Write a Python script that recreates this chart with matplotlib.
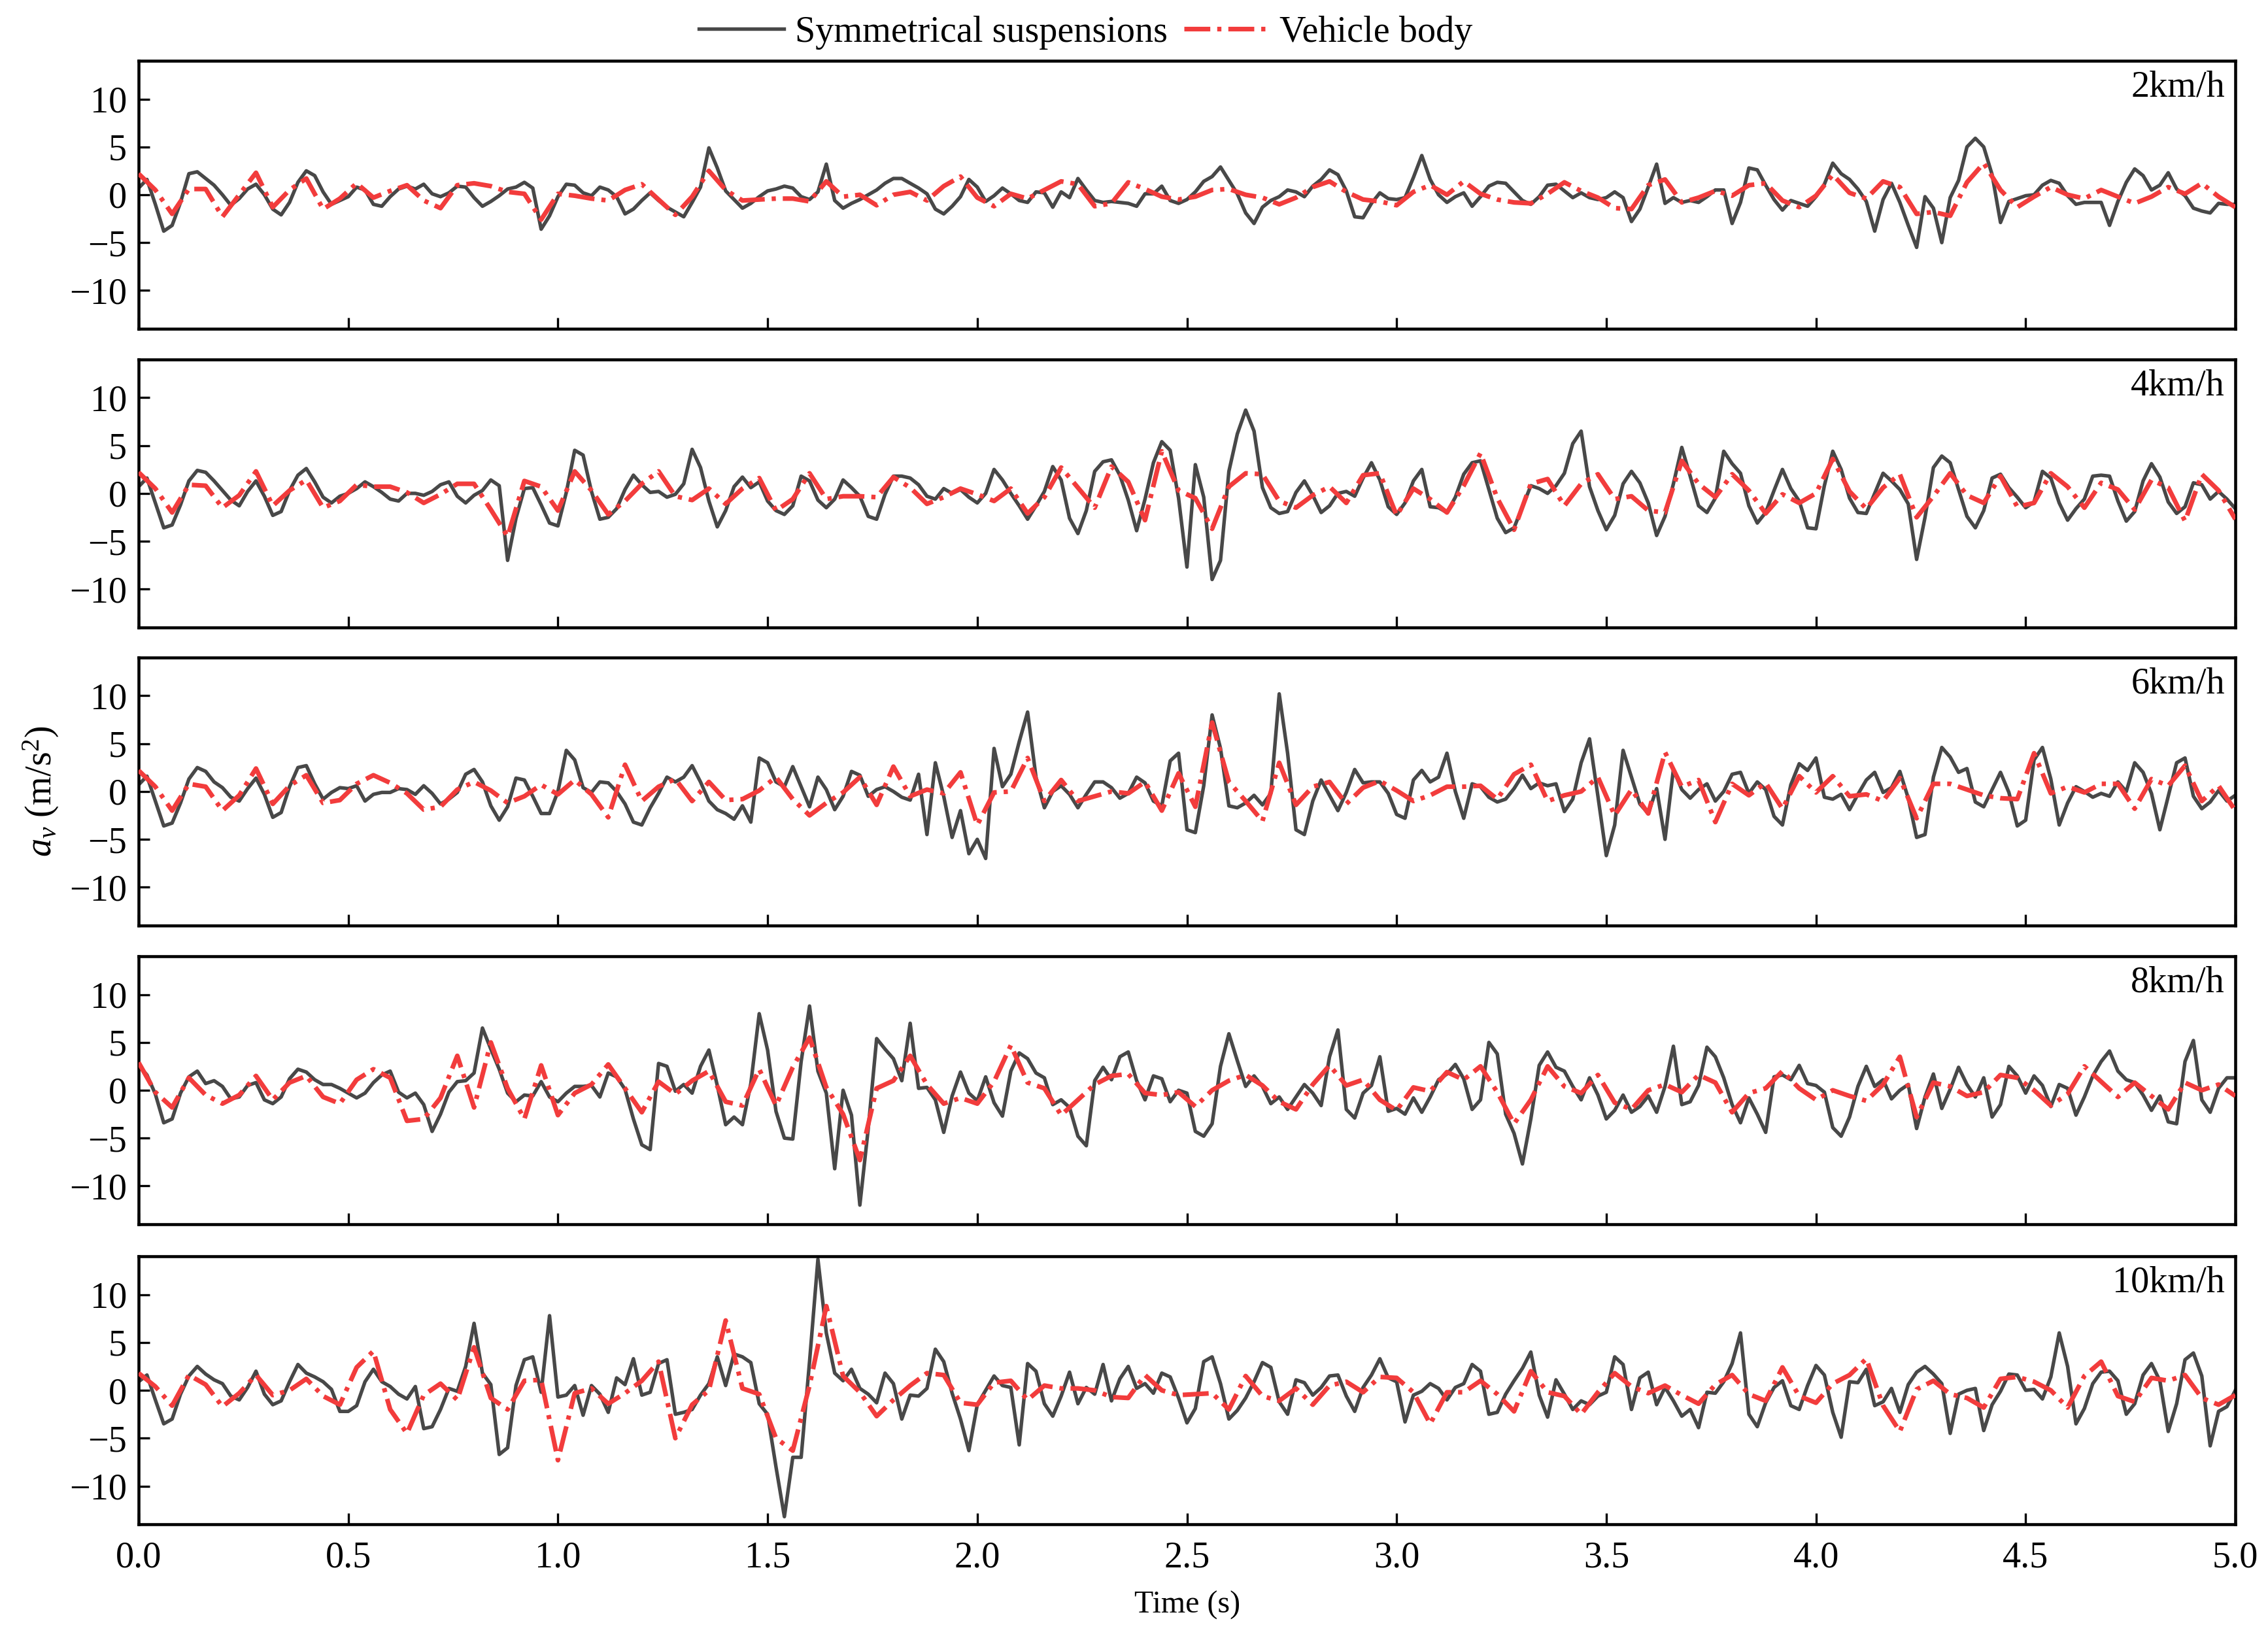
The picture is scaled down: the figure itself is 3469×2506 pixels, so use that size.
import numpy as np
import matplotlib
matplotlib.use('Agg')
import matplotlib.pyplot as plt
from matplotlib.ticker import FormatStrFormatter

# fonts (Times-like)
plt.rcParams['font.family'] = ['Liberation Serif', 'DejaVu Serif']
plt.rcParams['mathtext.fontset'] = 'custom'
plt.rcParams['mathtext.rm'] = 'Liberation Serif'
plt.rcParams['mathtext.it'] = 'Liberation Serif:italic'

# data
speeds = ['2km/h', '4km/h', '6km/h', '8km/h', '10km/h']
dt_susp = 0.02   # s, symmetrical suspensions
dt_body = 0.04   # s, vehicle body

susp_2 = [0.7, 1.6, -1.0, -3.8, -3.2, -0.8, 2.2, 2.4, 1.7, 1.0,
          0.0, -1.1, -0.4, 0.6, 1.1, 0.0, -1.5, -2.1, -0.8, 1.3,
          2.5, 2.0, 0.3, -1.0, -0.6, -0.2, 0.8, 0.5, -1.0, -1.2,
          -0.2, 0.6, 0.9, 0.6, 1.1, 0.1, -0.2, 0.2, 0.9, 0.8,
          -0.3, -1.2, -0.7, -0.1, 0.6, 0.8, 1.3, 0.7, -3.6, -2.2,
          -0.2, 1.1, 1.0, 0.2, -0.1, 0.8, 0.5, -0.2, -2.0, -1.5,
          -0.6, 0.2, -0.6, -1.3, -1.8, -2.3, -0.8, 0.8, 4.9, 2.8,
          0.4, -0.5, -1.4, -0.9, -0.2, 0.4, 0.6, 0.9, 0.7, -0.2,
          -0.5, 0.3, 3.2, -0.6, -1.4, -0.9, -0.5, 0.0, 0.5, 1.2,
          1.7, 1.7, 1.2, 0.7, 0.1, -1.5, -2.0, -1.2, -0.2, 1.6,
          0.8, -0.7, -0.1, 0.7, 0.1, -0.6, -0.8, 0.3, 0.2, -1.3,
          0.3, -0.3, 1.7, 0.5, -0.6, -0.8, -0.7, -0.8, -0.9, -1.2,
          0.1, 0.1, 0.9, -0.6, -0.9,
          -0.5, 0.3, 1.4, 1.9, 2.9, 1.5, 0.1, -1.9, -3.0, -1.3,
          -0.6, -0.2, 0.5, 0.3, -0.2, 0.9, 1.6, 2.6, 2.1, 0.4,
          -2.3, -2.4, -0.9, 0.2, -0.4, -0.5, -0.3, 1.8, 4.1, 1.6,
          0.0, -0.8, -0.2, 0.2, -1.2, -0.2, 0.9, 1.3, 1.2, 0.3,
          -0.6, -1.0, -0.2, 1.0, 1.1, 0.4, -0.3, 0.2, -0.3, -0.5,
          -0.3, 0.3, -0.3, -2.8, -1.5, 0.8, 3.2, -0.9, -0.3, -0.8,
          -0.6, -0.8, -0.2, 0.5, 0.5, -3.0, -0.8, 2.8, 2.6, 1.0,
          -0.5, -1.6, -0.6, -0.9, -1.2, -0.2, 1.1, 3.3, 2.2, 1.6,
          0.6, -0.7, -3.8, -0.5, 1.2, -0.8, -3.2, -5.5, -0.2, -1.4,
          -5.0, -0.3, 1.5, 5.0, 5.9, 5.0, 2.1, -2.9, -0.7, -0.4,
          -0.1, 0.0, 1.0, 1.5, 1.2, -0.1, -1.0, -0.8, -0.8, -0.8,
          -3.2, -0.7, 1.3, 2.7, 2.0, 0.5, 1.0, 2.3, 0.6, -0.1,
          -1.4, -1.7, -1.9, -0.9, -1.0, -1.0]
body_2 = [2.2, 0.5, -2.0, 0.6, 0.6, -2.3, 0.0, 2.3, -1.3, 0.5,
          1.7, -1.5, -0.4, 1.2, -0.3, 0.4, 1.0, -0.6, -1.4, 1.0,
          1.2, 0.9, 0.3, 0.1, -2.6, 0.1, -0.1, -0.4, -0.6, 0.5,
          1.1, -0.5, -2.1, -0.2, 2.5, 0.5, -0.6, -0.5, -0.4, -0.4,
          -0.7, 1.4, -0.2, 0.0, -1.1, 0.0, 0.3, -0.6, 0.9, 1.9,
          -0.3, -1.2, 0.1, -0.4, 0.5, 1.4, 1.1, -1.2, -0.9, 1.3,
          0.6, -0.2, -0.5,
          -0.2, 0.5, 0.6, 0.0, -0.3, -1.0, -0.3, 0.8, 1.4, 0.3,
          -0.5, -0.7, -1.1, 0.3, 1.0, 0.0, 1.4, 0.1, -0.5, -0.8,
          -0.9, 0.1, 1.3, 0.4, -0.3, -1.4, -1.5, 1.0, 1.6, -0.8,
          -0.3, 0.4, -0.1, 1.0, 1.2, -0.6, -1.3, -0.1, 2.1, 0.2,
          -0.4, 1.4, 0.8, -2.0, -1.8, -2.2, 1.3, 3.3, 0.5, -1.3,
          -0.2, 0.8, 0.0, -0.4, 0.5, -0.2, -0.9, -0.2, 0.8, 0.1,
          1.2, -0.2, -1.3]

susp_4 = [0.7, 1.6, -1.0, -3.6, -3.3, -1.2, 1.3, 2.4, 2.2, 1.3,
          0.3, -0.7, -1.3, 0.2, 1.3, -0.3, -2.3, -1.9, 0.3, 1.9,
          2.6, 1.2, -0.4, -1.0, -0.3, 0.0, 0.5, 1.2, 0.7, 0.1,
          -0.6, -0.8, 0.0, 0.0, -0.2, 0.2, 0.9, 1.2, -0.3, -1.0,
          -0.2, 0.3, 1.4, 0.8, -7.0, -2.6, 0.5, 0.6, -1.2, -3.1,
          -3.4, 0.1, 4.5, 4.0, 0.2, -2.7, -2.5, -1.6, 0.4, 1.9,
          0.9, 0.1, 0.2, -0.4, -0.1, 1.0, 4.6, 2.7, -0.8, -3.5,
          -1.8, 0.7, 1.7, 0.6, 1.2, -0.8, -1.8, -2.2, -1.3, 1.8,
          1.3, -0.7, -1.5, -0.6, 1.4, 0.6, -0.3, -2.4, -2.7, -0.1,
          1.8, 1.8, 1.6, 0.9, -0.3, -0.6, 0.5, 0.0, 0.4, -0.4,
          -1.0, 0.0, 2.5, 1.4, 0.0, -1.3, -2.7, -1.3, 0.2, 2.8,
          1.4, -2.6, -4.2, -1.8, 2.3, 3.3, 3.5, 1.9, -0.7, -3.9,
          -0.6, 3.2, 5.4, 4.5, -0.5,
          -7.7, 3.0, -0.4, -9.0, -7.0, 2.3, 6.2, 8.7, 6.5, 0.6,
          -1.5, -2.1, -1.9, 0.1, 1.3, -0.2, -2.0, -1.3, 0.0, 0.2,
          -0.3, 1.6, 3.2, 1.4, -1.4, -2.2, -1.0, 1.3, 2.5, -1.4,
          -1.5, -2.0, -0.4, 2.0, 3.2, 3.4, 0.4, -2.6, -4.1, -3.6,
          -1.4, 0.8, 0.5, 0.0, 0.8, 2.1, 5.2, 6.5, 0.7, -1.8,
          -3.8, -2.3, 1.0, 2.3, 1.1, -1.0, -4.4, -2.4, 1.0, 4.8,
          1.8, -1.3, -2.0, -0.5, 4.4, 3.1, 2.1, -1.3, -3.1, -2.0,
          0.3, 2.5, 0.5, -0.8, -3.6, -3.7, 0.8, 4.4, 2.5, -0.5,
          -2.0, -2.1, 0.0, 2.1, 1.3, 0.4, -1.1, -6.9, -2.5, 2.7,
          3.9, 3.2, 0.4, -2.4, -3.6, -1.8, 1.6, 2.0, 0.6, -0.4,
          -1.5, -0.9, 2.3, 1.6, -1.0, -2.8, -1.6, -0.6, 1.8, 1.9,
          1.8, -0.8, -2.9, -1.9, 1.3, 3.1, 1.7, -0.9, -2.1, -1.4,
          1.1, 0.9, -0.6, 0.2, -0.6, -1.6]
body_4 = [2.2, 0.5, -2.0, 0.9, 0.8, -1.5, -0.2, 2.3, -1.3, 0.3,
          1.4, -1.5, -0.8, 0.9, 0.7, 0.7, 0.1, -1.0, -0.1, 1.0,
          1.0, -1.7, -4.5, 1.3, 0.7, -1.8, 2.3, 0.3, -2.2, -0.8,
          1.0, 2.3, -0.3, -0.7, 0.5, -1.1, 0.5, 1.6, -1.8, -0.6,
          2.1, -0.6, -0.3, -0.3, -0.4, 1.7, 0.6, -1.1, -0.4, 0.5,
          -0.1, -0.8, 0.5, -2.1, -0.4, 2.7, 0.6, -1.5, 2.8, 1.2,
          -2.8, 4.4, 0.3,
          -0.5, -3.7, 0.7, 2.1, 2.0, -0.8, -1.5, -0.2, 0.7, -1.0,
          1.9, 2.1, -2.3, 0.5, -0.6, -2.0, 0.8, 4.2, -0.5, -3.8,
          1.0, 1.5, -1.3, 1.0, 2.0, -0.6, -0.3, -1.8, -2.0, 3.4,
          1.0, -0.4, 2.0, 0.3, -2.1, -0.1, -1.0, 0.0, 3.6, 0.2,
          -1.6, 0.6, 2.0, -2.5, -0.3, 2.1, -0.2, -1.0, 1.8, -1.4,
          -1.0, 2.1, 0.7, -1.5, 1.1, 0.4, -1.7, 1.4, 0.6, -2.9,
          2.0, 0.3, -2.7]

susp_6 = [0.7, 1.6, -1.0, -3.6, -3.3, -1.2, 1.3, 2.5, 2.1, 1.0,
          0.4, -0.6, -1.0, 0.3, 1.4, -0.3, -2.7, -2.2, 0.5, 2.5,
          2.7, 0.8, -0.8, -0.1, 0.4, 0.3, 0.6, -1.0, -0.3, -0.1,
          -0.1, 0.3, 0.2, -0.3, 0.6, -0.2, -1.3, -0.8, -0.1, 1.8,
          2.3, 1.0, -1.5, -3.0, -1.6, 1.4, 1.2, -0.5, -2.3, -2.3,
          0.0, 4.3, 3.3, 0.4, -0.1, 1.0, 0.9, 0.0, -1.3, -3.2,
          -3.5, -1.7, -0.2, 1.5, 1.0, 1.5, 2.7, 1.0, -1.0, -1.9,
          -2.3, -2.9, -1.5, -3.2, 3.5, 3.0, 1.0, 0.5, 2.6, 0.5,
          -1.6, 1.5, 0.2, -1.9, -0.5, 2.1, 1.7, -0.5, 0.2, 0.5,
          0.0, -0.6, -0.9, 1.8, -4.5, 3.0, -0.5, -4.8, -2.0, -6.5,
          -5.0, -7.0, 4.5, 0.5, 1.8, 5.2, 8.3, 1.5, -1.7, 0.0,
          0.6, -0.3, -1.7, -0.3, 1.0, 1.0, 0.4, -0.7, -0.2, 1.5,
          0.9, -1.0, -1.5, 3.2, 4.0,
          -4.0, -4.3, 0.6, 8.0, 4.5, -1.5, -1.7, -1.2, -0.4, -1.4,
          -0.2, 10.2, 4.0, -4.0, -4.5, -1.0, 1.2, -0.4, -2.0, -0.1,
          2.3, 0.9, 1.0, 1.0, -0.2, -2.4, -2.8, 1.2, 2.2, 1.0,
          1.5, 4.0, 0.0, -2.8, 0.8, 0.5, -0.6, -1.1, -0.8, 0.3,
          1.7, 0.3, 0.9, 0.6, 0.8, -2.1, -0.8, 3.0, 5.5, -0.5,
          -6.7, -3.5, 4.3, 1.5, -1.3, -2.3, 0.3, -5.0, 2.3, 0.2,
          -0.7, 0.2, 0.8, -1.0, 0.0, 1.8, 2.0, -0.2, 1.0, 0.2,
          -2.6, -3.5, 0.7, 2.9, 2.2, 3.5, -0.6, -0.8, -0.3, -1.9,
          -0.3, 1.2, 2.0, -0.1, 0.4, 2.1, -0.7, -4.8, -4.5, 1.5,
          4.6, 3.6, 2.0, 2.4, -1.1, -1.6, 0.2, 2.0, -0.1, -3.6,
          -3.0, 3.3, 4.6, 1.3, -3.5, -1.2, 0.5, 0.0, -0.6, -0.2,
          -0.5, 1.0, 0.0, 3.0, 2.0, -0.2, -4.0, -0.5, 3.0, 3.5,
          -0.5, -1.8, -1.1, 0.1, -1.0, -0.4]
body_6 = [2.2, 0.5, -2.0, 0.8, 0.5, -2.0, -0.4, 2.4, -1.3, 0.6,
          1.7, -1.2, -0.9, 0.8, 1.7, 0.9, -0.2, -1.9, -1.6, 0.2,
          1.0, 0.1, -1.2, -0.5, 0.7, -0.3, 1.2, -0.3, -2.7, 2.8,
          -1.0, 0.5, 1.3, -1.0, 1.0, -0.9, -0.8, 0.1, 1.5, -0.8,
          -2.5, -1.2, -0.1, 1.5, -1.4, 2.6, -0.5, 0.2, -0.2, 2.0,
          -3.5, -0.1, 0.0, 3.5, -1.0, 1.2, -1.0, -0.5, 0.0, -0.2,
          1.0, -2.0, 1.9,
          -1.6, 7.2, 1.0, -1.0, -3.1, 3.0, -1.4, 0.5, 1.0, -1.3,
          0.4, 1.1, 0.1, -1.0, -0.4, 0.5, 0.5, 0.6, -0.8, 1.8,
          2.8, -1.0, -0.4, 0.0, 1.5, -2.5, 0.2, -2.3, 4.1, 0.5,
          1.2, -3.2, 0.8, -0.4, 0.9, -1.8, 1.6, -0.1, 1.6, -0.5,
          -0.3, -1.0, 1.4, -2.8, 0.8, 0.8, 0.2, -0.4, -0.7, -0.8,
          4.0, -0.2, 0.5, -0.1, 0.8, 0.8, -1.8, 1.3, 0.6, 2.7,
          -1.0, 0.6, -2.0]

susp_8 = [2.6, 1.6, -0.4, -3.4, -3.0, -0.3, 1.4, 2.0, 0.7, 1.0,
          0.4, -0.9, -0.7, 0.5, 0.8, -1.0, -1.4, -0.7, 1.2, 2.2,
          1.9, 1.1, 0.6, 0.6, 0.2, -0.3, -0.8, -0.3, 0.8, 1.6,
          2.0, -0.2, -0.8, -0.3, -1.5, -4.3, -2.5, -0.2, 0.9, 1.0,
          1.8, 6.5, 4.3, 2.2, -0.3, -1.2, -0.5, -0.6, 0.9, -0.7,
          -1.2, -0.3, 0.4, 0.4, 0.5, -0.7, 1.8, 1.4, 0.1, -3.0,
          -5.7, -6.2, 2.8, 2.5, -0.1, 0.6, -0.3, 2.5, 4.2, 0.5,
          -3.6, -2.8, -3.6, 0.7, 8.0, 4.2, -2.2, -5.0, -5.1, 3.0,
          8.8, 2.0, -0.3, -8.2, 0.0, -2.6, -12.0, -4.0, 5.4, 4.3,
          3.3, 1.0, 7.0, 0.2, 0.3, -1.0, -4.4, -0.6, 1.9, -0.3,
          -1.1, 1.4, -1.3, -2.7, 2.0, 3.9, 3.3, 1.8, 1.3, -1.5,
          -1.0, -1.8, -4.8, -5.8, 1.0, 2.4, 1.1, 3.5, 4.0, 1.0,
          -1.0, 1.5, 1.2, -1.2, 0.0,
          -0.3, -4.3, -4.8, -3.5, 2.5, 5.9, 3.1, 0.4, 1.5, 0.4,
          -1.4, -0.7, -2.0, -0.7, 0.6, -0.3, -1.6, 3.5, 6.3, -2.0,
          -2.9, -0.3, 0.5, 3.5, -2.2, -1.9, -2.5, -0.8, -2.3, -0.7,
          1.1, 1.7, 2.7, 1.2, -2.0, -1.0, 5.0, 3.8, -2.5, -4.5,
          -7.7, -3.0, 2.6, 4.0, 2.4, 2.0, 0.4, -1.0, 1.3, -0.5,
          -3.0, -2.1, -0.5, -2.3, -1.7, -0.6, -2.3, 0.4, 4.6, -1.5,
          -1.2, 0.5, 4.5, 3.5, 1.3, -1.5, -3.4, -0.8, -2.5, -4.4,
          1.4, 1.6, 1.1, 2.6, 0.7, 0.5, -0.2, -3.9, -4.8, -2.8,
          0.4, 2.5, 0.4, 1.1, -0.9, 0.0, 0.6, -4.0, -0.7, 1.7,
          -1.9, 0.1, 2.4, 0.6, -0.7, 1.3, -2.8, -1.5, 2.5, 1.5,
          -0.3, 1.5, 0.5, -1.7, 0.6, 0.2, -2.6, -0.7, 1.5, 3.0,
          4.1, 2.0, 1.1, 0.8, -0.5, -2.1, -0.6, -3.3, -3.5, 3.0,
          5.2, -1.0, -2.3, 0.2, 1.3, 1.3]
body_8 = [2.9, -0.2, -1.8, 1.3, -0.5, -1.4, -0.5, 1.5, -1.0, 0.8,
          1.5, -0.7, -1.4, 1.1, 2.2, 1.3, -3.2, -3.0, -0.8, 3.6,
          -1.8, 5.0, 0.2, -3.0, 2.6, -2.6, -0.3, 0.6, 2.7, 0.2,
          -2.3, 0.9, -0.4, 1.0, 2.0, -1.2, -1.6, 2.2, -1.6, 2.4,
          5.5, 0.3, -2.5, -7.3, 0.2, 1.0, 3.6, 0.6, -1.4, -0.8,
          -1.4, 0.9, 4.7, 0.8, 0.2, -2.6, -1.0, 0.6, 1.5, 1.7,
          -0.3, -0.5, -0.2,
          -1.7, 0.0, 1.0, 1.6, 0.5, -1.2, -2.0, 0.6, 2.6, 0.5,
          1.1, -1.0, -2.1, 0.3, -0.1, 1.9, 1.1, 2.5, -0.2, -3.5,
          -1.0, 2.5, 0.4, -0.3, 1.6, -1.3, -2.0, 0.0, 0.6, -0.2,
          1.6, 0.8, -2.3, -0.3, 0.2, 2.0, 0.2, -1.0, 0.0, -0.6,
          -1.1, 0.6, 3.5, -2.8, 0.8, 0.4, -0.6, -0.2, 1.6, 1.3,
          0.0, -1.6, -0.4, 2.5, 0.9, -0.7, 0.8, -0.6, -2.0, 0.8,
          0.0, 0.6, -0.6]

susp_10 = [0.9, 1.6, -1.0, -3.5, -3.0, -0.4, 1.5, 2.5, 1.7, 1.1,
           0.7, -0.6, -1.0, 0.3, 2.0, -0.4, -1.5, -1.1, 0.9, 2.7,
           1.8, 1.4, 0.9, 0.1, -2.2, -2.2, -1.6, 0.9, 2.2, 0.9,
           0.4, -0.4, -0.9, 0.4, -4.0, -3.8, -2.0, 0.2, -0.1, 2.5,
           7.0, 1.8, 0.6, -6.7, -6.0, 0.5, 3.2, 3.5, -0.2, 7.8,
           -0.7, -0.5, 0.5, -2.6, 0.5, -0.4, -2.3, 1.3, 0.6, 3.3,
           -0.5, -0.2, 2.8, 3.2, -2.5, -2.3, -2.0, -0.5, 0.7, 3.5,
           0.5, 3.8, 3.5, 2.9, -1.4, -2.5, -8.0, -13.2, -7.0, -7.0,
           3.0, 13.7, 6.0, 1.8, 1.0, 2.2, 0.2, -0.4, -1.3, 1.8,
           0.7, -3.0, -0.5, -0.6, 0.2, 4.3, 3.0, -0.3, -3.0, -6.3,
           -1.5, 0.0, 1.5, 0.5, 0.3, -5.7, 2.8, 2.0, -1.4, -2.7,
           -0.6, 1.9, -1.4, 0.3, -0.4, 2.7, -1.1, 1.2, 2.5, 0.2,
           0.7, -0.3, 1.8, 1.4, -0.8,
           -3.4, -1.9, 3.0, 3.5, 0.7, -3.0, -2.1, -0.8, 0.9, 2.9,
           2.4, -1.2, -2.5, 1.1, 0.8, -0.5, 0.3, 1.5, 1.6, -0.6,
           -2.2, 0.3, 1.6, 3.3, 1.3, 0.9, -3.3, -0.5, -0.1, 0.7,
           0.2, -1.0, 0.3, 0.7, 2.7, 2.0, -2.5, -2.3, -0.4, 1.0,
           2.3, 4.0, -0.5, -2.8, 1.1, -0.4, -2.0, -1.1, -1.5, -0.6,
           -0.2, 3.5, 2.7, -2.0, 1.3, 1.9, -1.5, 0.3, -1.1, -2.7,
           -2.0, -3.9, -0.2, -0.3, 0.9, 2.8, 6.0, -2.5, -3.8, -1.3,
           0.3, 1.0, -1.6, -2.0, 0.5, 2.6, 1.6, -2.3, -4.9, 0.9,
           0.8, 2.2, -1.6, -1.2, 0.2, -2.3, 0.6, 1.9, 2.5, 1.7,
           0.7, -4.5, -0.4, 0.0, 0.2, -4.2, -1.5, -0.1, 1.7, 1.6,
           0.0, 0.1, -0.9, 1.4, 6.0, 2.5, -3.5, -1.9, 0.7, 1.9,
           2.0, 1.0, -2.5, -1.4, 1.6, 2.8, 1.0, -4.3, -1.4, 3.2,
           3.9, 1.5, -5.8, -2.2, -1.7, 0.0]
body_10 = [1.8, 0.4, -1.6, 1.6, 0.6, -1.7, -0.3, 1.6, -0.5, 0.0,
           1.2, -0.6, -1.5, 2.4, 4.1, -2.0, -4.5, -0.5, 0.7, -1.0,
           4.5, -0.8, -2.0, 1.0, 1.1, -7.3, -0.3, 0.2, -1.4, -0.3,
           1.0, 3.0, -5.0, -1.5, 0.0, 7.3, 0.2, -0.4, -5.0, -6.3,
           0.5, 8.8, 1.5, -0.2, -2.7, -1.0, 0.5, 1.8, 1.6, -1.3,
           -1.5, 0.8, 1.0, -1.0, 0.5, 0.2, 0.2, 0.0, -0.7, -0.8,
           1.6, 0.0, -0.5,
           -0.4, -0.3, -2.0, 1.5, -0.6, -1.1, 0.2, -1.5, 0.5, 0.9,
           -0.2, 1.4, 1.3, -0.2, -3.5, -0.2, -0.2, 1.0, -0.4, -2.2,
           2.0, -0.2, -0.6, -2.5, -0.2, 1.8, 0.4, -0.3, 0.5, -0.5,
           -1.4, 0.6, 1.6, -0.4, -1.1, 2.4, -0.6, -1.3, 0.7, 1.6,
           3.3, -1.6, -4.3, 0.1, 1.0, -0.4, -0.8, -1.8, 1.2, 1.4,
           0.9, 0.0, -1.8, 1.5, 3.0, -0.6, -1.2, 1.3, 1.0, 1.6,
           -0.8, -1.5, -0.5]

susp_all = [susp_2, susp_4, susp_6, susp_8, susp_10]
body_all = [body_2, body_4, body_6, body_8, body_10]

# figure
fig = plt.figure(figsize=(3469 / 300, 2506 / 300), dpi=300)
bottoms = [0.7993, 0.6170, 0.4350, 0.2526, 0.0694]
left, width, height = 0.0611, 0.9245, 0.1636

axes = []
for i in range(5):
    ax = fig.add_axes([left, bottoms[i], width, height])
    ys = np.array(susp_all[i])
    yb = np.array(body_all[i])
    ts = np.arange(len(ys)) * dt_susp
    tb = np.arange(len(yb)) * dt_body
    ax.plot(ts, ys, color='#484848', lw=1.3, label='Symmetrical suspensions', zorder=2)
    ax.plot(tb, yb, color='#f23c3c', lw=1.7, dashes=(5.6, 1.5, 0.9, 1.5),
            label='Vehicle body', zorder=3)
    ax.set_xlim(0, 5)
    ax.set_ylim(-14, 14)
    ax.set_yticks([-10, -5, 0, 5, 10])
    ax.set_xticks(np.arange(0, 5.01, 0.5))
    ax.xaxis.set_major_formatter(FormatStrFormatter('%.1f'))
    ax.tick_params(direction='in', length=4, width=0.8, labelsize=13.5,
                   top=False, right=False)
    ax.tick_params(axis='x', pad=6)
    ax.tick_params(axis='y', pad=4.3)
    if i < 4:
        ax.tick_params(labelbottom=False)
    for sp in ax.spines.values():
        sp.set_linewidth(1.1)
    ax.text(0.995, 0.965, speeds[i], transform=ax.transAxes,
            ha='right', va='top', fontsize=13.5)
    axes.append(ax)

handles, labels = axes[0].get_legend_handles_labels()
fig.legend(handles, labels, loc='center', bbox_to_anchor=(0.4788, 0.980), ncol=2,
           frameon=False, fontsize=13.5, handlelength=2.3, handletextpad=0.3,
           columnspacing=0.45, borderpad=0.0)

fig.text(0.5234, 0.020, 'Time (s)', ha='center', va='center', fontsize=11.5)
fig.text(0.018, 0.5168, r'$a_v$ (m/s$^2$)', rotation=90, ha='center', va='center',
         fontsize=13.5)

fig.savefig('out.png', dpi=300)
